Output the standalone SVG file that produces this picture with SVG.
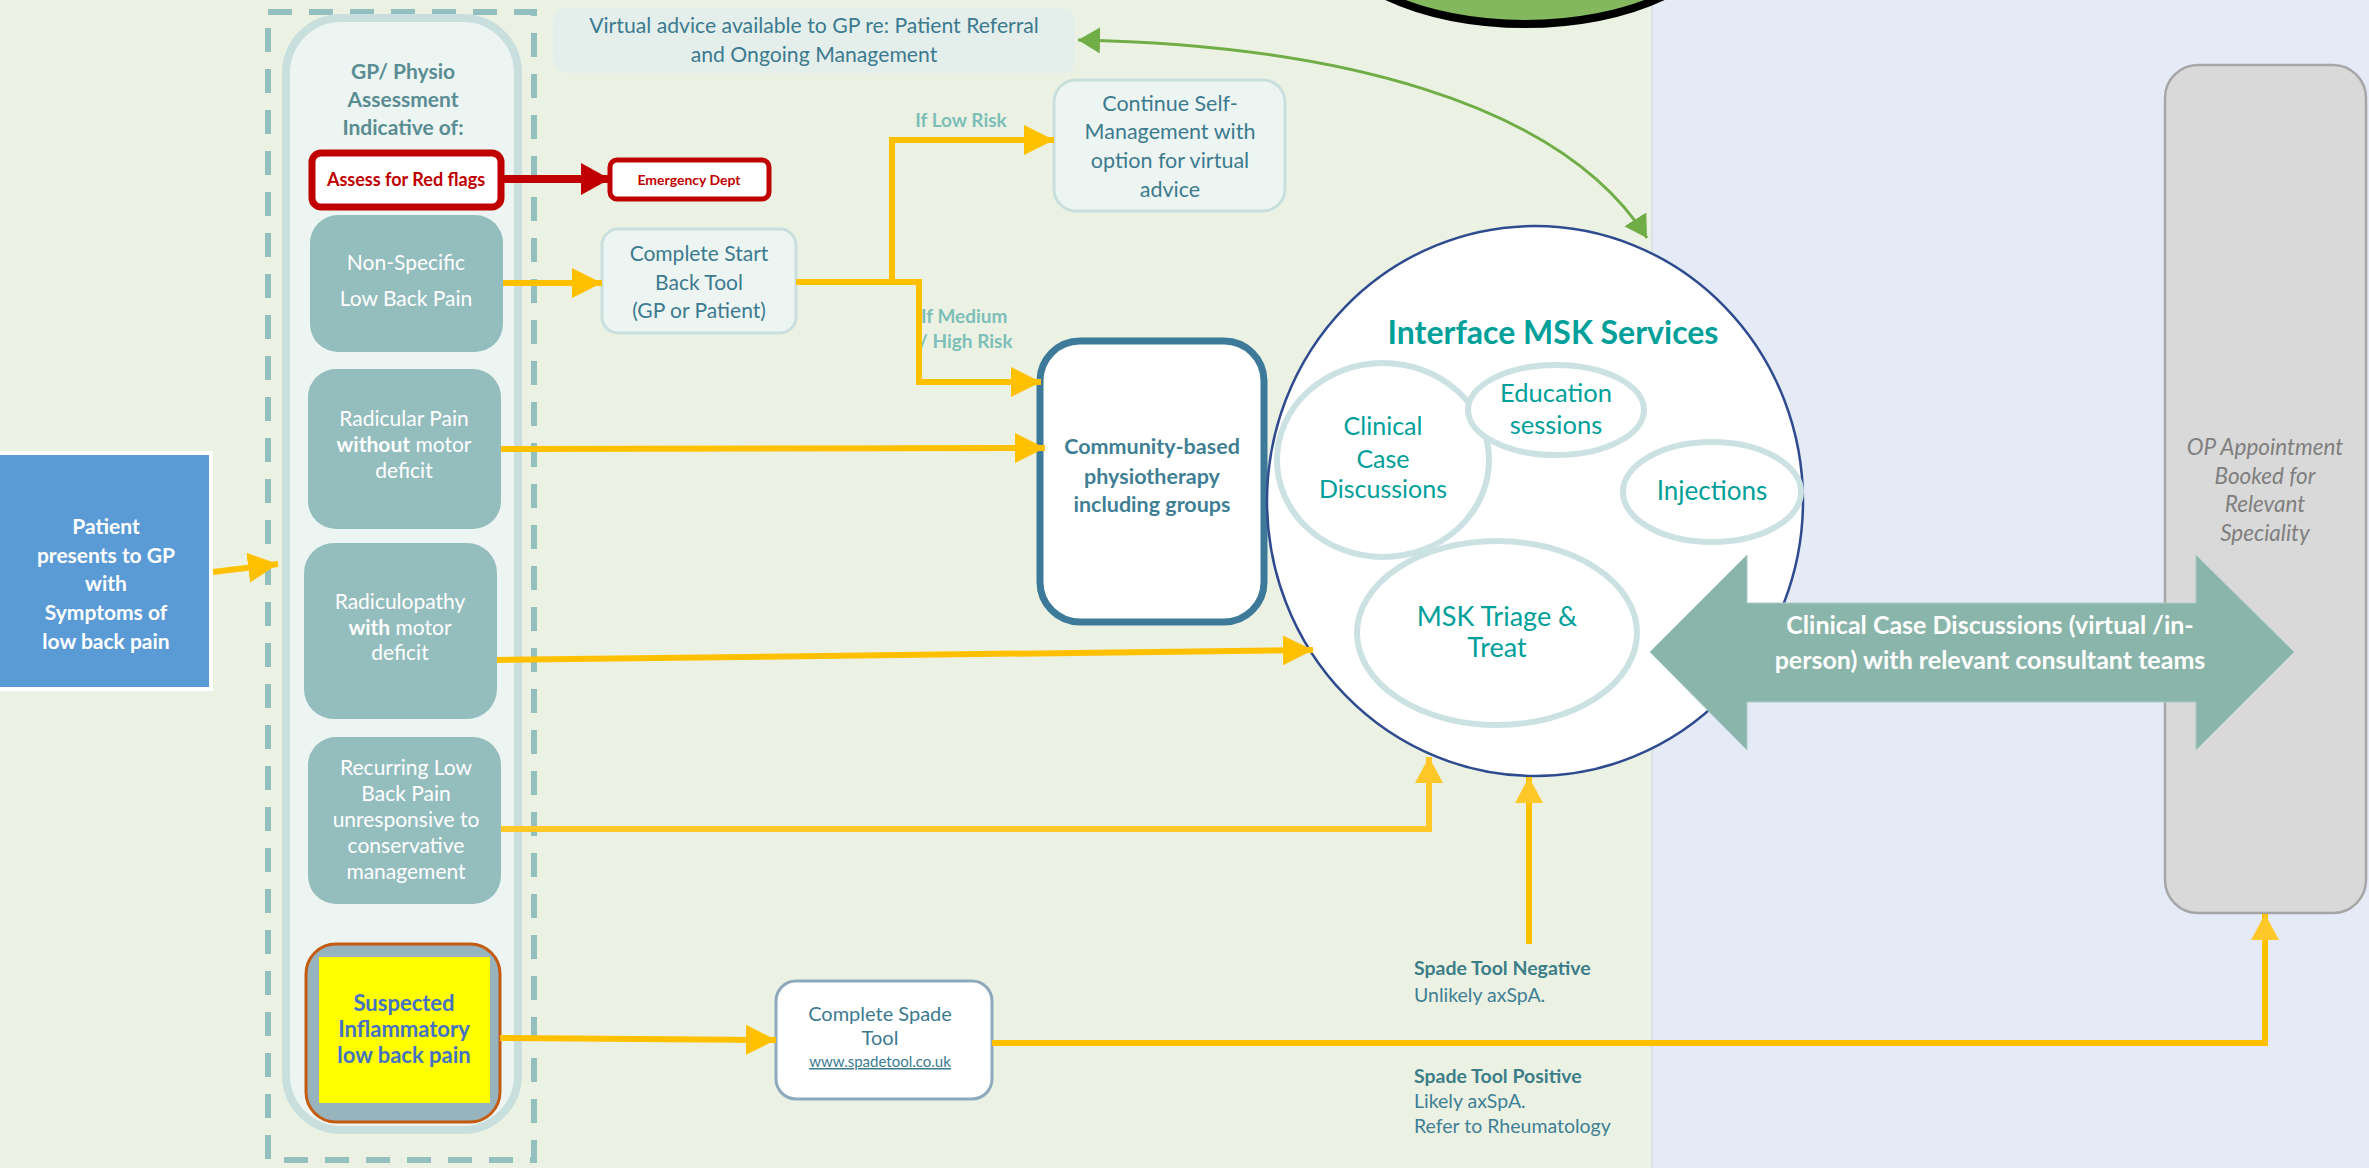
<svg xmlns="http://www.w3.org/2000/svg" width="2369" height="1168" viewBox="0 0 2369 1168">
<style>
text{font-family:Lato,"Liberation Sans",sans-serif;text-anchor:middle}
.w{fill:#fff}
.b{font-weight:bold}
.gp{fill:#94BDBE}
.tb{fill:#3C7A8F}
.lt{fill:#EDF5F2;stroke:#C9DFDD;stroke-width:3}
.tl{fill:#00A09A}
.ic{fill:#fff;stroke:#CCE2E2;stroke-width:6}
.y{fill:none;stroke:#FFC000;stroke-width:6;marker-end:url(#ya)}
.lbl{fill:#7DBFB8;font-weight:bold;font-size:19px}
.st{text-anchor:start}
.sp{text-anchor:start;font-size:19.5px}
</style>
<defs>
<marker id="ya" markerUnits="userSpaceOnUse" markerWidth="32" markerHeight="32" refX="30" refY="15" orient="auto"><path d="M0,0 L30,15 L0,30 z" fill="#FFC000"/></marker>
<marker id="ya2" markerUnits="userSpaceOnUse" markerWidth="32" markerHeight="32" refX="26" refY="14" orient="auto"><path d="M0,0 L26,14 L0,28 z" fill="#FFC828"/></marker>
<marker id="ra" markerUnits="userSpaceOnUse" markerWidth="32" markerHeight="34" refX="29" refY="16" orient="auto"><path d="M0,0 L29,16 L0,32 z" fill="#C00000"/></marker>
<marker id="ga" markerUnits="userSpaceOnUse" markerWidth="26" markerHeight="28" refX="22" refY="13" orient="auto-start-reverse"><path d="M0,0 L22,13 L0,26 z" fill="#70AD47"/></marker>
</defs>

<rect x="0" y="0" width="1652" height="1168" fill="#EBF2E4"/>
<rect x="1652" y="0" width="717" height="1168" fill="#E4EAF6"/>
<line x1="1652" y1="0" x2="1652" y2="1168" stroke="#D6DDE2" stroke-width="1.5"/>
<ellipse cx="1525" cy="-76" rx="200" ry="100" fill="#84B85E" stroke="#000" stroke-width="8"/>

<g id="assessment-container">
<rect x="268" y="12" width="266" height="1148" fill="none" stroke="#93BFBF" stroke-width="6" stroke-dasharray="24 17"/>
<rect x="286" y="18" width="232" height="1112" rx="55" fill="#EDF5F2" stroke="#C9DFDD" stroke-width="8"/>
<text x="403" y="79" class="b" font-size="21" fill="#5A8C93">GP/ Physio</text>
<text x="403" y="107" class="b" font-size="21" fill="#5A8C93">Assessment</text>
<text x="403" y="135" class="b" font-size="21" fill="#5A8C93">Indicative of:</text>
</g>

<g id="red-flags">
<rect x="312" y="153" width="189" height="54" rx="9" fill="#fff" stroke="#C00000" stroke-width="7"/>
<text x="406" y="186" class="b" font-size="18" fill="#C00000">Assess for Red flags</text>
</g>
<g id="emergency-dept">
<rect x="610" y="160" width="159" height="39" rx="7" fill="#fff" stroke="#C00000" stroke-width="5"/>
<text x="689" y="185" class="b" font-size="14" fill="#C00000">Emergency Dept</text>
</g>

<g id="non-specific">
<rect x="310" y="215" width="193" height="137" rx="28" class="gp"/>
<text x="406" y="270" font-size="21" class="w">Non-Specific</text>
<text x="406" y="306" font-size="21" class="w">Low Back Pain</text>
</g>
<g id="radicular">
<rect x="308" y="369" width="193" height="160" rx="28" class="gp"/>
<text x="404" y="426" font-size="21" class="w">Radicular Pain</text>
<text x="404" y="452" font-size="21" class="w"><tspan font-weight="bold">without</tspan> motor</text>
<text x="404" y="478" font-size="21" class="w">deficit</text>
</g>
<g id="radiculopathy">
<rect x="304" y="543" width="193" height="176" rx="30" class="gp"/>
<text x="400" y="609" font-size="21" class="w">Radiculopathy</text>
<text x="400" y="635" font-size="21" class="w"><tspan font-weight="bold">with</tspan> motor</text>
<text x="400" y="660" font-size="21" class="w">deficit</text>
</g>
<g id="recurring">
<rect x="308" y="737" width="193" height="167" rx="28" class="gp"/>
<text x="406" y="775" font-size="21" class="w">Recurring Low</text>
<text x="406" y="801" font-size="21" class="w">Back Pain</text>
<text x="406" y="827" font-size="21" class="w">unresponsive to</text>
<text x="406" y="853" font-size="21" class="w">conservative</text>
<text x="406" y="879" font-size="21" class="w">management</text>
</g>
<g id="suspected">
<rect x="306" y="944" width="194" height="178" rx="30" fill="#97B3BE" stroke="#C55A11" stroke-width="3"/>
<rect x="319" y="957" width="171" height="146" fill="#FFFF00"/>
<text x="404" y="1011" class="b" font-size="22" fill="#4472C4">Suspected</text>
<text x="404" y="1037" class="b" font-size="22" fill="#4472C4">Inflammatory</text>
<text x="404" y="1063" class="b" font-size="22" fill="#4472C4">low back pain</text>
</g>

<g id="patient">
<rect x="-4" y="453" width="215" height="236" fill="#5B9BD5" stroke="#fff" stroke-width="4"/>
<text x="106" y="534" class="b w" font-size="21">Patient</text>
<text x="106" y="563" class="b w" font-size="21">presents to GP</text>
<text x="106" y="591" class="b w" font-size="21">with</text>
<text x="106" y="620" class="b w" font-size="21">Symptoms of</text>
<text x="106" y="649" class="b w" font-size="21">low back pain</text>
</g>

<g id="virtual-advice">
<rect x="553" y="8" width="522" height="65" rx="12" fill="#E4EFEC"/>
<text x="814" y="33" font-size="21.2" class="tb">Virtual advice available to GP re: Patient Referral</text>
<text x="814" y="62" font-size="21.2" class="tb">and Ongoing Management</text>
</g>

<g id="start-back">
<rect x="602" y="229" width="194" height="104" rx="16" class="lt"/>
<text x="699" y="261" font-size="21" class="tb">Complete Start</text>
<text x="699" y="290" font-size="21" class="tb">Back Tool</text>
<text x="699" y="318" font-size="21" class="tb">(GP or Patient)</text>
</g>

<g id="continue-self">
<rect x="1054" y="80" width="231" height="131" rx="22" class="lt"/>
<text x="1170" y="111" font-size="21.5" class="tb">Continue Self-</text>
<text x="1170" y="139" font-size="21.5" class="tb">Management with</text>
<text x="1170" y="168" font-size="21.5" class="tb">option for virtual</text>
<text x="1170" y="197" font-size="21.5" class="tb">advice</text>
</g>

<g id="community">
<rect x="1040" y="341" width="224" height="281" rx="40" fill="#fff" stroke="#3D7A99" stroke-width="7"/>
<text x="1152" y="454" class="b" font-size="21.5" fill="#3F7F95">Community-based</text>
<text x="1152" y="484" class="b" font-size="21.5" fill="#3F7F95">physiotherapy</text>
<text x="1152" y="512" class="b" font-size="21.5" fill="#3F7F95">including groups</text>
</g>

<g id="spade">
<rect x="776" y="981" width="216" height="118" rx="20" fill="#fff" stroke="#8EA9BC" stroke-width="3"/>
<text x="880" y="1021" font-size="20" class="tb">Complete Spade</text>
<text x="880" y="1045" font-size="20" class="tb">Tool</text>
<text x="880" y="1067" font-size="15" class="tb" text-decoration="underline">www.spadetool.co.uk</text>
</g>

<g id="interface-msk">
<ellipse cx="1535" cy="501" rx="268" ry="275" fill="#fff" stroke="#2F4B8F" stroke-width="2.5"/>
<text x="1553" y="344" class="b tl" font-size="32">Interface MSK Services</text>
<ellipse cx="1383" cy="460" rx="106" ry="97" class="ic"/>
<text x="1383" y="435" font-size="25" class="tl">Clinical</text>
<text x="1383" y="468" font-size="25" class="tl">Case</text>
<text x="1383" y="498" font-size="25" class="tl">Discussions</text>
<ellipse cx="1556" cy="410" rx="88" ry="45" class="ic"/>
<text x="1556" y="402" font-size="25.5" class="tl">Education</text>
<text x="1556" y="434" font-size="25.5" class="tl">sessions</text>
<ellipse cx="1712" cy="492" rx="89" ry="50" class="ic"/>
<text x="1712" y="500" font-size="26" class="tl">Injections</text>
<ellipse cx="1497" cy="633" rx="140" ry="92" class="ic"/>
<text x="1497" y="626" font-size="27" class="tl">MSK Triage &amp;</text>
<text x="1497" y="657" font-size="27" class="tl">Treat</text>
</g>

<g id="op-appointment">
<rect x="2165" y="65" width="201" height="848" rx="33" fill="#D9D9D9" stroke="#A6A6A6" stroke-width="2.5"/>
<text x="2265" y="455" font-size="22.5" font-style="italic" fill="#7F7F7F">OP Appointment</text>
<text x="2265" y="484" font-size="22.5" font-style="italic" fill="#7F7F7F">Booked for</text>
<text x="2265" y="512" font-size="22.5" font-style="italic" fill="#7F7F7F">Relevant</text>
<text x="2265" y="541" font-size="22.5" font-style="italic" fill="#7F7F7F">Speciality</text>
</g>

<g id="case-discussions-arrow">
<polygon points="1650,652 1747,555 1747,603 2196,603 2196,555 2294,652 2196,750 2196,702 1747,702 1747,750" fill="#8AB5AA" stroke="#A9CCC4" stroke-width="1"/>
<text x="1990" y="634" class="b w" font-size="25">Clinical Case Discussions (virtual /in-</text>
<text x="1990" y="669" class="b w" font-size="25">person) with relevant consultant teams</text>
</g>

<g id="labels">
<text x="961" y="127" class="lbl">If Low Risk</text>
<text x="921" y="323" class="lbl st">If Medium</text>
<text x="919" y="348" class="lbl st">/ High Risk</text>
<text x="1414" y="975" class="sp b" fill="#3D7D88">Spade Tool Negative</text>
<text x="1414" y="1002" class="sp" fill="#3F7F95">Unlikely axSpA.</text>
<text x="1414" y="1083" class="sp b" fill="#3D7D88">Spade Tool Positive</text>
<text x="1414" y="1108" class="sp" fill="#3F7F95">Likely axSpA.</text>
<text x="1414" y="1133" class="sp" fill="#3F7F95">Refer to Rheumatology</text>
</g>

<g id="connectors">
<line x1="213" y1="572" x2="278" y2="564" class="y"/>
<line x1="503" y1="283" x2="602" y2="283" class="y"/>
<polyline points="796,282 892,282 892,140 1054,140" class="y"/>
<polyline points="889,282 919,282 919,382 1041,382" class="y"/>
<line x1="501" y1="449" x2="1045" y2="448" class="y"/>
<line x1="497" y1="660" x2="1313" y2="650" class="y"/>
<polyline points="501,829 1429,829 1429,757" fill="none" stroke="#FFC828" stroke-width="6" marker-end="url(#ya2)"/>
<line x1="500" y1="1038" x2="776" y2="1040" class="y"/>
<polyline points="992,1043 2265,1043 2265,914" fill="none" stroke="#FFC000" stroke-width="6" marker-end="url(#ya2)"/>
<line x1="1529" y1="944" x2="1529" y2="777" fill="none" stroke="#FFC000" stroke-width="6" marker-end="url(#ya2)"/>
<line x1="501" y1="179" x2="610" y2="179" stroke="#C00000" stroke-width="8" marker-end="url(#ra)"/>
<path d="M1078,40 C1330,45 1560,100 1647,238" fill="none" stroke="#70AD47" stroke-width="3" marker-start="url(#ga)" marker-end="url(#ga)"/>
</g>
</svg>
